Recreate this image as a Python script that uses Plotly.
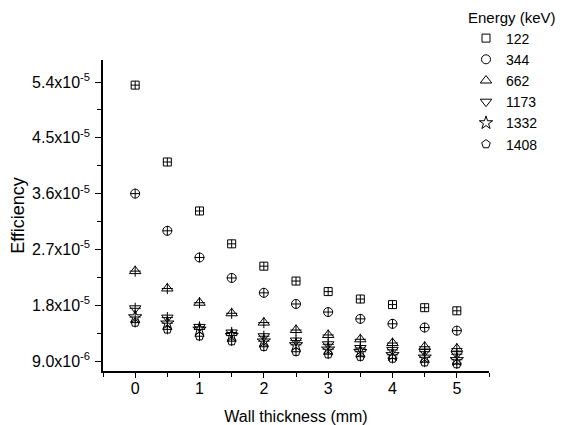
import plotly.graph_objects as go

thickness = [0, 0.5, 1, 1.5, 2, 2.5, 3, 3.5, 4, 4.5, 5]

energies = ["122", "344", "662", "1173", "1332", "1408"]
eff_122 = [53.5, 41.1, 33.2, 27.9, 24.3, 21.9, 20.2, 19.0, 18.1, 17.6, 17.1]
eff_344 = [36.0, 30.0, 25.7, 22.4, 20.0, 18.2, 16.9, 15.8, 15.0, 14.4, 13.9]
eff_662 = [23.5, 20.7, 18.4, 16.7, 15.2, 14.0, 13.2, 12.5, 11.9, 11.3, 11.0]
eff_1173 = [17.5, 16.0, 14.5, 13.6, 13.0, 12.3, 11.7, 11.1, 10.8, 10.5, 10.1]
eff_1332 = [16.1, 15.1, 14.1, 13.1, 12.2, 11.6, 10.9, 10.5, 10.0, 9.6, 9.2]
eff_1408 = [15.2, 14.1, 13.0, 12.2, 11.3, 10.5, 10.1, 9.7, 9.4, 8.8, 8.5]
series = [eff_122, eff_344, eff_662, eff_1173, eff_1332, eff_1408]

symbols = ["square-open", "circle-open", "triangle-up-open",
           "triangle-down-open", "star-open", "pentagon-open"]
sizes = [8, 9, 10, 10, 10, 9]

ytick_vals = [9.0, 18, 27, 36, 45, 54]
ytick_text = ["9.0x10<sup>-6</sup>", "1.8x10<sup>-5</sup>", "2.7x10<sup>-5</sup>",
              "3.6x10<sup>-5</sup>", "4.5x10<sup>-5</sup>", "5.4x10<sup>-5</sup>"]

fig = go.Figure()
for name, vals, sym, sz in zip(energies, series, symbols, sizes):
    yv = [v * 1e-6 for v in vals]
    fig.add_trace(go.Scatter(
        x=thickness, y=yv, mode="markers", name=name,
        marker=dict(symbol=sym, size=sz, color="black", line=dict(width=1, color="black")),
    ))
    # cross inside each marker (error bars in the original)
    fig.add_trace(go.Scatter(
        x=thickness, y=yv, mode="markers", showlegend=False, hoverinfo="skip",
        marker=dict(symbol="cross-thin-open", size=sz - 2, color="black",
                    line=dict(width=1, color="black")),
    ))

# page body has an 8px margin, so the figure is drawn at (8, 8)
fig.update_layout(
    width=555, height=417,
    margin=dict(l=95, r=74, t=52, b=54, autoexpand=False),
    paper_bgcolor="white", plot_bgcolor="white",
    font=dict(family="Liberation Sans, Arial, sans-serif", size=16, color="black"),
    legend=dict(
        title=dict(text="Energy (keV)", font=dict(size=15)),
        x=(466 - 103) / 386, y=(371 - 3) / 311, xanchor="left", yanchor="top",
        bgcolor="rgba(0,0,0,0)", font=dict(size=14),
        itemsizing="trace", tracegroupgap=0,
    ),
    xaxis=dict(
        title=dict(text="Wall thickness (mm)", font=dict(size=16), standoff=16),
        range=[-0.5, 5.5], tickmode="array", tickvals=[0, 1, 2, 3, 4, 5],
        ticks="outside", ticklen=5, tickcolor="black", automargin=True,
        tickfont=dict(size=16), ticklabelstandoff=-3,
        minor=dict(tickvals=[-0.5, 0.5, 1.5, 2.5, 3.5, 4.5, 5.5], ticks="outside",
                   ticklen=4, tickcolor="black"),
        showline=True, linecolor="black", linewidth=1.5,
        showgrid=False, zeroline=False,
    ),
    yaxis=dict(
        title=dict(text="Efficiency", font=dict(size=18)),
        range=[7.39e-6, 57.55e-6], tickmode="array",
        tickvals=[v * 1e-6 for v in ytick_vals], ticktext=ytick_text,
        ticks="outside", ticklen=6, tickcolor="black", automargin=False,
        tickfont=dict(size=16), ticklabelstandoff=2,
        minor=dict(tickvals=[v * 1e-6 for v in [13.5, 22.5, 31.5, 40.5, 49.5]],
                   ticks="outside", ticklen=4, tickcolor="black"),
        showline=True, linecolor="black", linewidth=1.5,
        showgrid=False, zeroline=False,
    ),
)

fig.write_html("out.html")
